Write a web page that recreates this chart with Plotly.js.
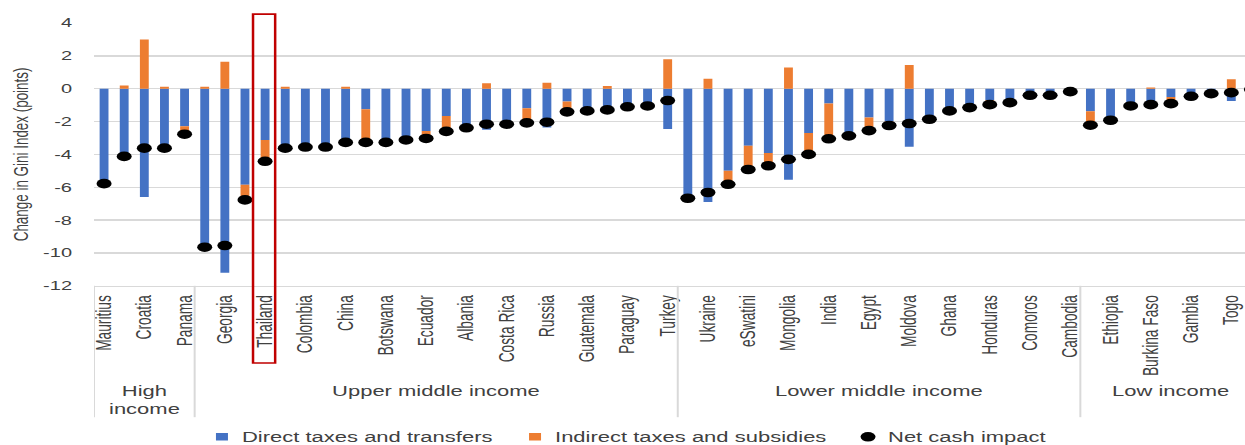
<!DOCTYPE html>
<html><head><meta charset="utf-8">
<script src="https://cdn.plot.ly/plotly-3.0.1.min.js"></script>
<style>
html,body{margin:0;padding:0;overflow:hidden;background:#fff;width:1245px;height:445px}
#chart{width:1245px;height:740px;transform-origin:0 0}
</style></head><body>
<div id="chart"></div>
<script>
// Category labels (Excel showed every other label; unlabeled bars have empty labels)
const countries = [
 "Mauritius","","Croatia","","Panama",
 "","Georgia","","Thailand","","Colombia","","China","","Botswana","","Ecuador","","Albania","","Costa Rica","","Russia","","Guatemala","","Paraguay","","Turkey",
 "","Ukraine","","eSwatini","","Mongolia","","India","","Egypt","","Moldova","","Ghana","","Honduras","","Comoros","","Cambodia",
 "","Ethiopia","","Burkina Faso","","Gambia","","Togo",""
];
const direct = [
 -5.78,-4.30,-6.60,-3.72,-2.28,
 -9.75,-11.20,-5.85,-3.13,-3.72,-3.55,-3.55,-3.38,-1.25,-3.27,-2.90,-2.57,-1.66,-2.38,-2.50,-2.12,-1.19,-2.36,-0.78,-1.35,-1.45,-1.10,-1.05,-2.46,
 -6.67,-6.90,-4.99,-3.47,-3.92,-5.54,-2.70,-0.90,-2.87,-1.76,-2.00,-3.54,-1.70,-1.35,-1.15,-0.70,-0.85,-0.40,-0.40,-0.18,
 -1.37,-1.92,-1.05,-1.05,-0.50,-0.46,-0.30,-0.75,-0.05
];
const indirect = [
 0,0.20,3.00,0.12,-0.45,
 0.12,1.64,-0.95,-1.30,0.12,0,0,0.12,-2.00,0,-0.20,-0.45,-0.95,0,0.33,-0.04,-0.90,0.36,-0.62,0,0.16,0,0,1.80,
 0,0.60,-0.80,-1.40,-0.75,1.29,-1.30,-2.15,0,-0.80,-0.24,1.45,-0.16,0,0,-0.27,0,0,0,0,
 -0.85,0,0,0.08,-0.41,0,0,0.57,0
];
const net = [
 -5.78,-4.12,-3.62,-3.62,-2.77,
 -9.65,-9.55,-6.77,-4.42,-3.62,-3.55,-3.55,-3.27,-3.27,-3.27,-3.12,-3.03,-2.60,-2.38,-2.16,-2.16,-2.08,-2.04,-1.41,-1.35,-1.29,-1.10,-1.05,-0.72,
 -6.67,-6.32,-5.82,-4.92,-4.69,-4.30,-4.00,-3.05,-2.87,-2.55,-2.24,-2.12,-1.86,-1.35,-1.15,-0.97,-0.85,-0.40,-0.40,-0.18,
 -2.22,-1.92,-1.05,-0.97,-0.91,-0.46,-0.30,-0.24,-0.05
];
const groups = ["High income","Upper middle income","Lower middle income","Low income"];
const groupSizes = [5,24,20,9];
const seriesNames = ["Direct taxes and transfers","Indirect taxes and subsidies","Net cash impact"];
const yTickVals = [-12,-10,-8,-6,-4,-2,0,2,4];
const yTickText = ["-12","-10","-8","-6","-4","-2","0","2","4"];
const highlighted = "Thailand";
const yTitle = "Change in Gini Index (points)";

const FONT = "Liberation Sans, Arial, sans-serif";
const TXT = "#404040";
const GRID = "#d9d9d9";
const SCALE_Y = 445/696;
const idx = countries.map((c,i)=>i);
const tickIdx = idx.filter(i=>countries[i] !== "");

const traces = [
 {type:"bar", name:seriesNames[0], x:idx, y:direct, marker:{color:"#4472C4"}, legend:"legend"},
 {type:"bar", name:seriesNames[1], x:idx, y:indirect, marker:{color:"#ED7D31"}, legend:"legend2"},
 {type:"scatter", mode:"markers", name:seriesNames[2], x:idx, y:net, marker:{color:"#000", size:15, symbol:"circle"}, legend:"legend3"}
];

const SEP_BOTTOM = -0.50;
const shapes = [];
const annotations = [];
let start = 0;
shapes.push({type:"line", xref:"x", yref:"paper", x0:-0.5, x1:-0.5, y0:0, y1:SEP_BOTTOM, line:{color:GRID, width:2}});
groups.forEach((g,k)=>{
  const end = start + groupSizes[k] - 1;
  annotations.push({xref:"x", yref:"paper", x:(start+end)/2, y:-0.366, yanchor:"top", xanchor:"center",
    text: groupSizes[k] < 8 ? g.replace(" ","<br>") : g, showarrow:false, font:{family:FONT,size:22,color:TXT}});
  if (k < groups.length-1) {
    shapes.push({type:"line", xref:"x", yref:"paper", x0:end+0.5, x1:end+0.5, y0:0, y1:SEP_BOTTOM, line:{color:GRID, width:2}});
  }
  start = end + 1;
});
const hi = countries.indexOf(highlighted);
shapes.push({type:"rect", xref:"x", yref:"paper", x0:hi-0.6, x1:hi+0.5, y0:-0.294, y1:1.034, line:{color:"#C00000", width:2.5}, fillcolor:"rgba(0,0,0,0)"});

const legendBase = {orientation:"h", xanchor:"left", yanchor:"middle", y:-0.575, font:{family:FONT,size:22,color:TXT}, bgcolor:"rgba(0,0,0,0)", borderwidth:0};

const layout = {
  width:1245, height:740,
  margin:{l:94, r:0, t:36, b:293, autoexpand:false},
  paper_bgcolor:"#fff", plot_bgcolor:"#fff",
  font:{family:FONT, color:TXT},
  barmode:"relative", bargap:0.56,
  hovermode:false,
  showlegend:true,
  legend:Object.assign({}, legendBase, {x:0.0938}),
  legend2:Object.assign({}, legendBase, {x:0.3658}),
  legend3:Object.assign({}, legendBase, {x:0.6551}),
  xaxis:{type:"linear", range:[-0.5,56.68], tickmode:"array", tickvals:tickIdx, ticktext:tickIdx.map(i=>countries[i]),
    tickangle:-90, tickfont:{family:FONT,size:21.5,color:TXT}, showgrid:false, zeroline:false,
    showline:true, linecolor:GRID, linewidth:2, ticks:"", ticklabelstandoff:4, fixedrange:true},
  yaxis:{range:[-12,4], tickmode:"array", tickvals:yTickVals, ticktext:yTickText, tickfont:{family:FONT,size:20,color:TXT},
    gridcolor:GRID, gridwidth:2, zeroline:false, showline:false, ticks:"", ticklabelstandoff:21,
    title:{text:yTitle, font:{family:FONT,size:21,color:TXT}, standoff:8}, fixedrange:true},
  shapes:shapes,
  annotations:annotations
};

Plotly.newPlot("chart", traces, layout, {displayModeBar:false, staticPlot:true}).then(()=>{
  document.getElementById("chart").style.transform = "scaleY(" + SCALE_Y + ")";
});
</script>
</body></html>
